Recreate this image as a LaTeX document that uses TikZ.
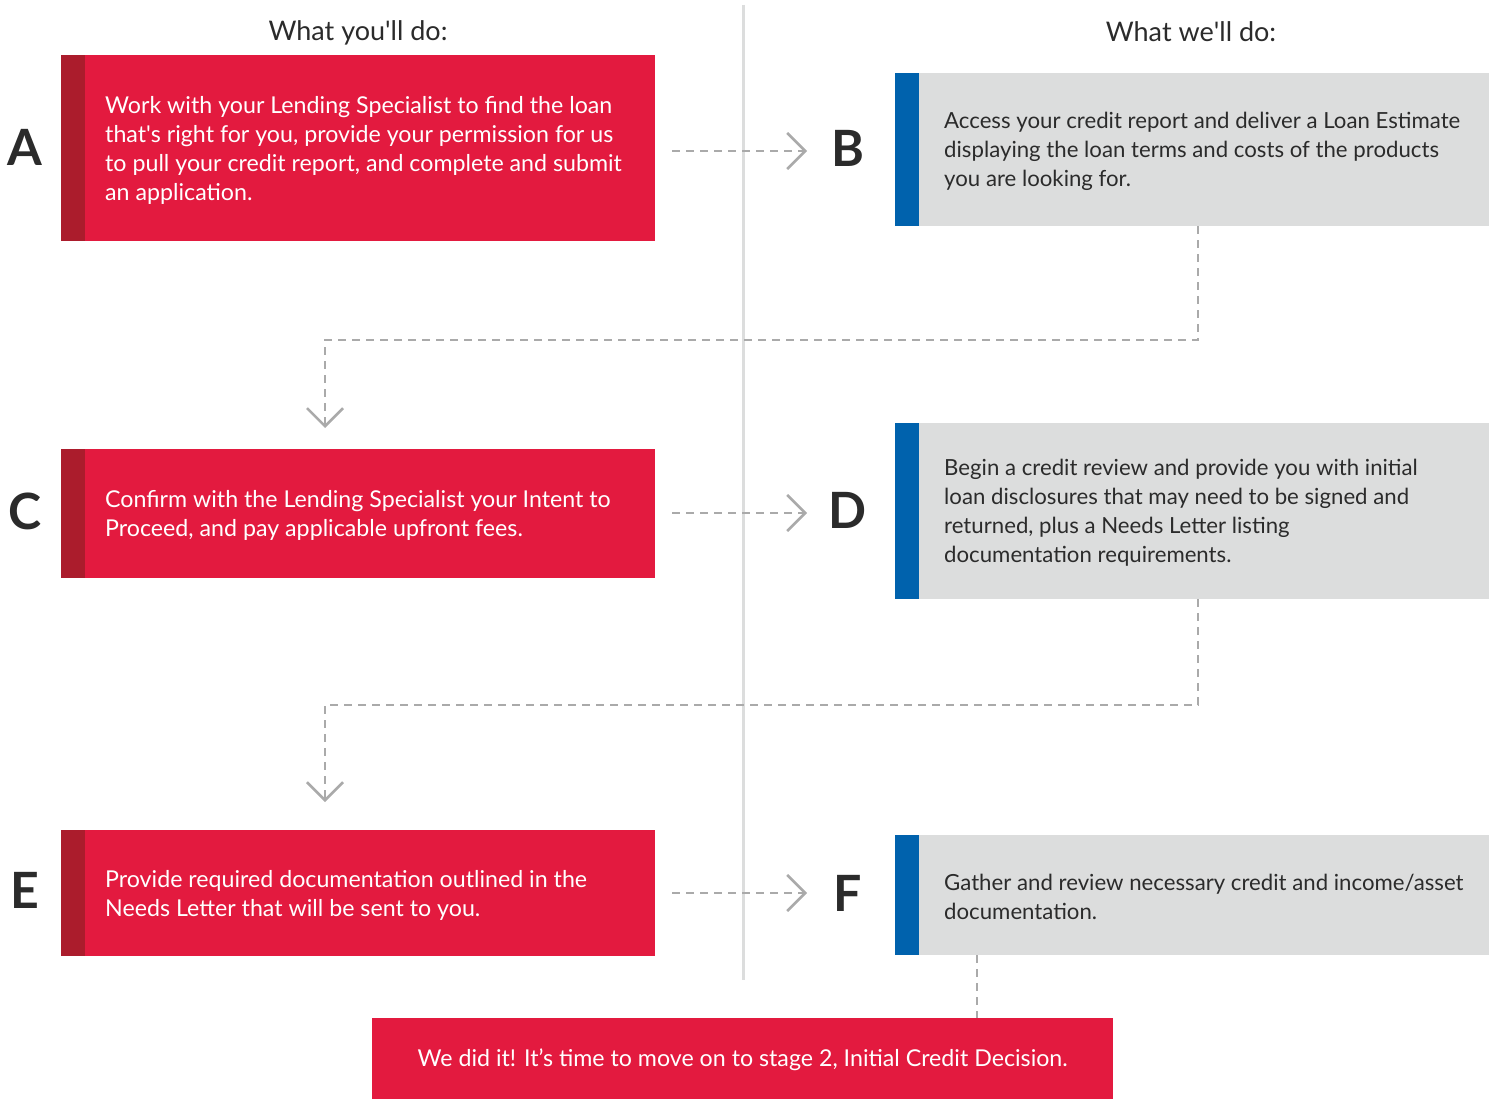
\documentclass[tikz,border=0pt]{standalone}
\usepackage{fontspec}
\setmainfont{Lato}
\usetikzlibrary{arrows.meta}
\definecolor{stepred}{HTML}{E31A3F}
\definecolor{stepdark}{HTML}{AB1C2C}
\definecolor{stepblue}{HTML}{0062AD}
\definecolor{stepgray}{HTML}{DCDDDD}
\definecolor{linkgray}{HTML}{AAAAAA}
\definecolor{inkgray}{HTML}{2B2B2B}
\newcommand{\apos}{\textquotesingle}
\tikzset{
  youbox/.style={fill=stepred, inner sep=0pt, minimum width=594pt, anchor=north west,
    path picture={\fill[stepdark] (path picture bounding box.south west) rectangle ([xshift=24pt]path picture bounding box.north west);}},
  webox/.style={fill=stepgray, inner sep=0pt, minimum width=594pt, anchor=north west,
    path picture={\fill[stepblue] (path picture bounding box.south west) rectangle ([xshift=24pt]path picture bounding box.north west);}},
  youtext/.style={anchor=west, align=left, text=white, inner sep=0pt, yshift=-2pt, font=\fontsize{23.2}{29}\selectfont},
  wetext/.style={anchor=west, align=left, text=inkgray, inner sep=0pt, yshift=-2pt, font=\fontsize{22.2}{29}\selectfont},
  letter/.style={text=inkgray, inner sep=0pt, font=\fontsize{50}{50}\selectfont\bfseries},
  header/.style={text=inkgray, inner sep=0pt, font=\fontsize{27}{27}\selectfont},
  link/.style={draw=linkgray, line width=2.5pt, dash pattern=on 8pt off 6pt,
    -{Straight Barb[length=18pt, width=36pt, line width=2.5pt]}},
  plainlink/.style={draw=linkgray, line width=2.5pt, dash pattern=on 8pt off 6pt}
}
\begin{document}
\begin{tikzpicture}[x=1pt, y=-1pt]
\useasboundingbox (0,0) rectangle (1494,1099);
% centre line
\draw[draw=stepgray, line width=3pt] (743,5) -- (743,980);

\node[header] (hyou) at (358,33) {What you\apos ll do:};
\node[header] (hwe) at (1191,32) {What we\apos ll do:};

% left column
\node[youbox, minimum height=186pt] (boxa) at (61,55) {};
\node[youtext] (texta) at ([xshift=44pt]boxa.west) {Work with your Lending Specialist to find the loan\\that\apos s right for you, provide your permission for us\\to pull your credit report, and complete and submit\\an application.};
\node[youbox, minimum height=129pt] (boxc) at (61,449) {};
\node[youtext] (textc) at ([xshift=44pt]boxc.west) {Confirm with the Lending Specialist your Intent to\\Proceed, and pay applicable upfront fees.};
\node[youbox, minimum height=126pt] (boxe) at (61,830) {};
\node[youtext] (texte) at ([xshift=44pt]boxe.west) {Provide required documentation outlined in the\\Needs Letter that will be sent to you.};

% right column
\node[webox, minimum height=153pt] (boxb) at (895,73) {};
\node[wetext] (textb) at ([xshift=49pt]boxb.west) {Access your credit report and deliver a Loan Estimate\\displaying the loan terms and costs of the products\\you are looking for.};
\node[webox, minimum height=176pt] (boxd) at (895,423) {};
\node[wetext] (textd) at ([xshift=49pt]boxd.west) {Begin a credit review and provide you with initial\\loan disclosures that may need to be signed and\\returned, plus a Needs Letter listing\\documentation requirements.};
\node[webox, minimum height=120pt] (boxf) at (895,835) {};
\node[wetext] (textf) at ([xshift=49pt]boxf.west) {Gather and review necessary credit and income/asset\\documentation.};

\node[fill=stepred, minimum width=741pt, minimum height=81pt, anchor=north west, text=white,
  text depth=3pt, font=\fontsize{23.2}{29}\selectfont] (done) at (372,1018) {We did it! It’s time to move on to stage 2, Initial Credit Decision.};

% letters
\node[letter] (la) at (25,147) {A};
\node[letter] (lb) at (848,148) {B};
\node[letter] (lc) at (25,511) {C};
\node[letter] (ld) at (848,510) {D};
\node[letter] (le) at (25,890) {E};
\node[letter] (lf) at (848,893) {F};

% arrows
\coordinate (outa) at (672,151);
\coordinate (ina) at (807,151);
\draw[link] (outa) -- (ina);
\coordinate (outc) at (672,513);
\coordinate (inc) at (807,513);
\draw[link] (outc) -- (inc);
\coordinate (oute) at (672,893);
\coordinate (ine) at (807,893);
\draw[link] (oute) -- (ine);

\coordinate (bendb) at (325,340);
\coordinate (topc) at (325,428);
\draw[link] ([xshift=6pt]boxb.south) |- (bendb) -- (topc);
\coordinate (bendd) at (325,705);
\coordinate (tope) at (325,802);
\draw[link] ([xshift=6pt]boxd.south) |- (bendd) -- (tope);
\draw[plainlink] (boxf.south -| 977,0) -- (done.north -| 977,0);

\end{tikzpicture}
\end{document}
